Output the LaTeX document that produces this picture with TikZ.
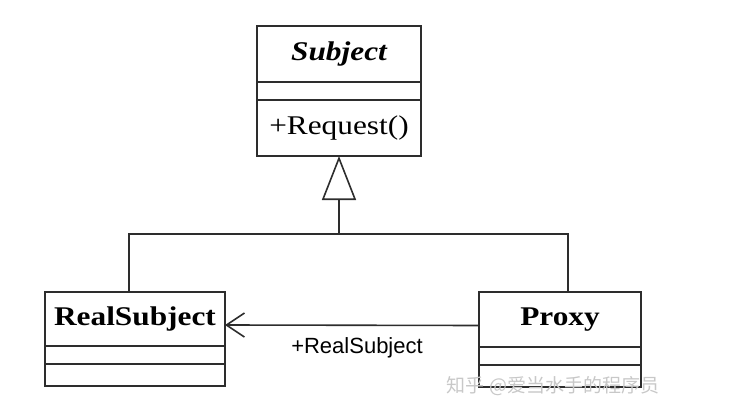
\documentclass[tikz,border=0pt]{standalone}
\usepackage{fontspec}
\setmainfont[FakeStretch=1.16]{Liberation Serif}
\newfontfamily\assocfont{Liberation Sans}
\newfontfamily\cjkfont{Noto Sans CJK SC}
\usepackage{tikz}
\usetikzlibrary{arrows.meta,positioning}
\definecolor{LineaUML}{RGB}{45,45,45}
\definecolor{MarcaAgua}{RGB}{200,200,200}

\begin{document}
\begin{tikzpicture}[x=1pt,y=-1pt,line width=1.6pt,draw=LineaUML,
  part/.style={draw=LineaUML,line width=1.6pt,outer sep=0pt,inner sep=0pt,anchor=north},
  classname/.style={font=\fontsize{27}{30}\selectfont\bfseries},
  member/.style={font=\fontsize{27}{30}\selectfont}]
  \useasboundingbox (0,0) rectangle (729,404);
  % abstract class
  \node[part,classname,minimum width=164pt,minimum height=56pt] (subjT) at (339,26) {\itshape Subject};
  \node[part,below=0pt of subjT,minimum width=164pt,minimum height=18pt] (subjA) {};
  \node[part,member,below=0pt of subjA,minimum width=164pt,minimum height=56pt] (subjM) {+Request()};
  % real subject
  \node[part,classname,minimum width=180pt,minimum height=54pt] (realT) at (135,292) {RealSubject};
  \node[part,below=0pt of realT,minimum width=180pt,minimum height=18pt] (realA) {};
  \node[part,below=0pt of realA,minimum width=180pt,minimum height=22pt] (realM) {};
  % proxy
  \node[part,classname,minimum width=162pt,minimum height=55pt] (proxyT) at (560,292) {Proxy};
  \node[part,below=0pt of proxyT,minimum width=162pt,minimum height=18pt] (proxyA) {};
  \node[part,below=0pt of proxyA,minimum width=162pt,minimum height=22pt] (proxyM) {};
  % generalisation
  \coordinate (bus) at (339,234);
  \draw[LineaUML] ([xshift=-6pt]realT.north) |- (bus) -| ([xshift=8pt]proxyT.north);
  \draw[LineaUML,-{Triangle[open,length=44pt,width=34pt]}] (bus) -- (subjM.south);
  % association
  \draw[LineaUML,-{Straight Barb[length=18pt,width=24pt]}] ([yshift=-6pt]proxyT.west) -- ([yshift=-6pt]realT.east);
  \node[font=\assocfont\fontsize{22}{25}\selectfont] (assocLbl) at (357,348) {+RealSubject};
  \node[text=MarcaAgua,font=\cjkfont\fontsize{19}{22}\selectfont] (marca) at (553,386) {知乎 @爱当水手的程序员};
\end{tikzpicture}
\end{document}
